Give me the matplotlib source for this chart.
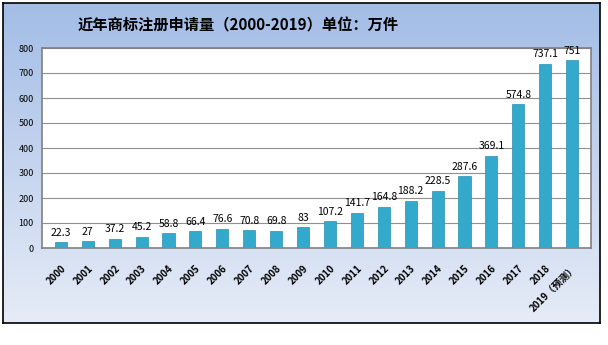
import numpy as np
import matplotlib
matplotlib.use("Agg")
from matplotlib import pyplot as plt
from matplotlib.colors import LinearSegmentedColormap

plt.rcParams['font.family'] = ['Noto Sans CJK SC', 'DejaVu Sans']

years = ['2000', '2001', '2002', '2003', '2004', '2005', '2006', '2007', '2008', '2009',
         '2010', '2011', '2012', '2013', '2014', '2015', '2016', '2017', '2018', '2019（预测）']
values = [22.3, 27, 37.2, 45.2, 58.8, 66.4, 76.6, 70.8, 69.8, 83,
          107.2, 141.7, 164.8, 188.2, 228.5, 287.6, 369.1, 574.8, 737.1, 751]
labels = ['22.3', '27', '37.2', '45.2', '58.8', '66.4', '76.6', '70.8', '69.8', '83',
          '107.2', '141.7', '164.8', '188.2', '228.5', '287.6', '369.1', '574.8', '737.1', '751']
title = '近年商标注册申请量（2000-2019）单位：万件'

W, H = 608, 345
fig = plt.figure(figsize=(W / 100, H / 100), dpi=100)
fig.patch.set_facecolor('white')

# gradient background panel with black frame
bg = fig.add_axes([3 / W, 1 - 323 / H, 597 / W, 320 / H])
grad = np.linspace(0, 1, 256).reshape(-1, 1)
cm = LinearSegmentedColormap.from_list('bg', ['#a3bde6', '#e6ecf7'])
bg.imshow(grad, aspect='auto', cmap=cm, extent=[0, 1, 0, 1])
bg.set_xticks([])
bg.set_yticks([])
for s in bg.spines.values():
    s.set_color('black')
    s.set_linewidth(1.2)

fig.text(238 / W, 1 - 25 / H, title, ha='center', va='center',
         fontsize=11, fontweight='bold')

ax = fig.add_axes([42 / W, 1 - 248 / H, 549 / W, 200 / H])
ax.set_facecolor('white')
x = np.arange(len(values))
ax.bar(x, values, width=0.45, color='#33aacc', edgecolor='#2890b0', linewidth=0.5, zorder=3)
ax.set_ylim(0, 800)
ax.set_xlim(-0.7, len(values) - 0.3)
ax.set_yticks(range(0, 801, 100))
ax.yaxis.grid(True, color='#909090', linewidth=0.8, zorder=0)
ax.tick_params(axis='y', labelsize=6.5, length=0, pad=6)
ax.set_xticks(x)
ax.set_xticklabels(years, rotation=45, ha='right', rotation_mode='anchor',
                   fontsize=7, fontweight='bold')
ax.tick_params(axis='x', length=0, pad=11)
for s in ax.spines.values():
    s.set_color('#808080')
    s.set_linewidth(1.2)

for xi, v, lab in zip(x, values, labels):
    ax.text(xi, v + 18, lab, ha='center', va='bottom', fontsize=7.5)

fig.savefig('out.png', dpi=100)
